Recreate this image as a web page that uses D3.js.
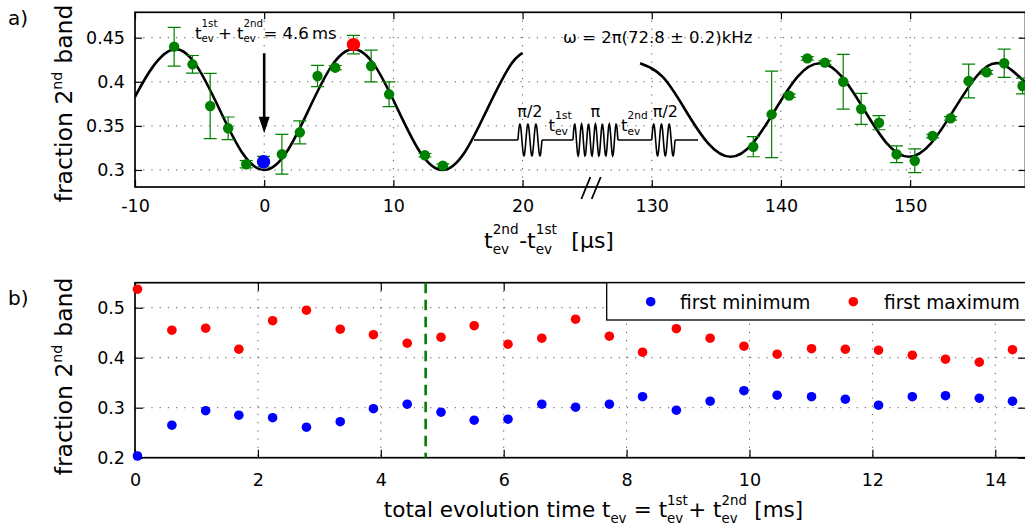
<!DOCTYPE html>
<html><head><meta charset="utf-8">
<script src="https://cdn.jsdelivr.net/npm/d3@7"></script>
<style>
html,body{margin:0;padding:0;background:#fff;}
svg{display:block;font-family:"DejaVu Sans",sans-serif;}
text{white-space:pre;}
</style></head><body>
<svg id="c" width="1025" height="532"></svg>
<script>
// ---------- Panel a data ----------
const aT   = [-6.97,-5.55,-4.18,-2.79,-1.39,-0.05,1.37,2.76,4.13,5.5,6.91,8.28,9.67,12.44,13.83,
              137.86,139.28,140.64,142.04,143.4,144.82,146.21,147.59,148.95,150.36,151.74,153.13,154.53,155.92,157.28,158.7];
const aV   = [0.4398,0.4198,0.3726,0.3473,0.3065,0.3094,0.3178,0.3427,0.4066,0.416,0.4422,0.4179,0.3858,0.3167,0.3049,
              0.3264,0.3631,0.3843,0.4266,0.4217,0.4001,0.3692,0.3536,0.3178,0.3105,0.3385,0.3586,0.4009,0.4108,0.421,0.3952];
const aErr = [0.022,0.010,0.037,0.0128,0.004,0.006,0.0225,0.013,0.012,0.0025,0.0105,0.018,0.014,0.002,0.002,
              0.0114,0.049,0.002,0.002,0.002,0.031,0.0176,0.008,0.0095,0.0134,0.002,0.002,0.0192,0.002,0.016,0.009];
const aMinT = [-0.05], aMinV = [0.3094];
const aMaxT = [6.91],  aMaxV = [0.4422];
// fit curve (two visible segments)
const fitT1 = [-10,-8.625,-6.9,-5.175,-3.45,-1.725,0,1.725,3.45,5.175,6.9,8.625,10.35,12.075,13.8,15.525,17.25,18.975,20];
const fitV1 = [0.383,0.4169,0.437,0.4169,0.3685,0.3201,0.300,0.3201,0.3685,0.4169,0.437,0.4169,0.3685,0.3201,0.300,0.3201,0.3685,0.4169,0.4327];
const fitT2 = [129.1,130.85,132.6,134.35,136.1,137.83,139.55,141.28,143.0,144.73,146.45,148.18,149.9,151.63,153.38,155.1,156.85,158.93];
const fitV2 = [0.421,0.4055,0.368,0.3305,0.315,0.3305,0.368,0.4055,0.421,0.4055,0.368,0.3305,0.315,0.3305,0.368,0.4055,0.421,0.399];
const aXTickU = [-10,0,10,20,30,40,50];
const aXTickLabels = ['-10','0','10','20','130','140','150'];
const aYTicks = [0.3,0.35,0.4,0.45];
const aYTickLabels = ['0.3','0.35','0.4','0.45'];
const BREAK_SHIFT = 100; // 130 µs is drawn where 30 would be

// ---------- Panel b data ----------
const bT   = [0.04,0.6,1.15,1.69,2.24,2.79,3.34,3.88,4.43,4.98,5.52,6.07,6.62,7.17,7.72,8.26,8.81,9.36,9.91,10.45,11.01,11.56,12.1,12.65,13.19,13.74,14.28];
const bMin = [0.2034,0.265,0.294,0.285,0.280,0.261,0.272,0.298,0.307,0.291,0.275,0.277,0.307,0.301,0.307,0.322,0.295,0.313,0.334,0.325,0.322,0.317,0.305,0.322,0.324,0.319,0.313];
const bMax = [0.537,0.455,0.459,0.417,0.474,0.495,0.457,0.446,0.429,0.441,0.464,0.427,0.439,0.477,0.443,0.411,0.458,0.439,0.423,0.407,0.418,0.417,0.415,0.405,0.397,0.391,0.416];
const bMarkT = 4.73;
const bXTicks = [0,2,4,6,8,10,12,14];
const bYTicks = [0.2,0.3,0.4,0.5];
const bYTickLabels = ['0.2','0.3','0.4','0.5'];
const legendLabels = ['first minimum','first maximum'];

const GREEN = '#008000', BLUE = '#0000ff', RED = '#ff0000';
const FONT = '"DejaVu Sans", sans-serif';
const TICK_FS = 17.5;

const svg = d3.select('#c');
svg.append('rect').attr('width',1025).attr('height',532).attr('fill','#fff');

// ---------- rich text helper (stacked super/subscripts) ----------
function rich(parent, parts, o) {
  const size = o.size, sc = o.scale || 0.62;
  const g = parent.append('g');
  const inner = g.append('g');
  let cx = 0;
  const mk = (txt, x, y, fs) => inner.append('text').attr('x',x).attr('y',y)
      .attr('font-size',fs).attr('font-family',FONT).attr('fill','#000').text(txt);
  parts.forEach(p => {
    if (typeof p === 'string') {
      const t = mk(p, cx, 0, size); cx += t.node().getComputedTextLength();
    } else {
      let w = 0;
      if (p.sup) { const t = mk(p.sup, cx, (o.supDy ?? -0.55)*size, size*sc); w = Math.max(w, t.node().getComputedTextLength()); }
      if (p.sub) { const t = mk(p.sub, cx, (o.subDy ?? 0.27)*size, size*sc); w = Math.max(w, t.node().getComputedTextLength()); }
      cx += w + (o.gap || 0.5);
    }
  });
  const anchor = o.anchor || 'start';
  const off = anchor === 'middle' ? -cx/2 : anchor === 'end' ? -cx : 0;
  inner.attr('transform', `translate(${off},0)`);
  g.attr('transform', `translate(${o.x},${o.y}) rotate(${o.rotate||0})`);
  return g;
}

function styleAxis(g, fs) {
  g.select('.domain').remove();
  g.selectAll('.tick line').attr('stroke','#000').attr('stroke-width',1.2);
  g.selectAll('.tick text').attr('font-size',fs).attr('fill','#000').attr('font-family',FONT);
}

// =================== PANEL A ===================
const A = {l:135, r:1025.5, t:12.3, b:187};
const xa = d3.scaleLinear().domain([-10, 58.93]).range([A.l, A.r]);
const ya = d3.scaleLinear().domain([0.2807, 0.4788]).range([A.b, A.t]);
const ua = t => (t > BREAK_SHIFT ? t - BREAK_SHIFT : t);
const pa = svg.append('g');

svg.append('clipPath').attr('id','clipA').append('rect')
  .attr('x',A.l).attr('y',A.t).attr('width',A.r-A.l).attr('height',A.b-A.t);

// grid
const gridA = pa.append('g').attr('stroke','#555').attr('stroke-width',1).attr('stroke-dasharray','1.2,7');
gridA.selectAll('.gx').data(aXTickU.filter(u => u > -10)).join('line')
  .attr('x1',d=>xa(d)).attr('x2',d=>xa(d)).attr('y1',A.t).attr('y2',A.b);
gridA.selectAll('.gy').data(aYTicks).join('line')
  .attr('x1',A.l).attr('x2',A.r).attr('y1',d=>ya(d)).attr('y2',d=>ya(d));

// axes
const axB = pa.append('g').attr('transform',`translate(0,${A.b})`)
  .call(d3.axisBottom(xa).tickValues(aXTickU).tickFormat((d,i)=>aXTickLabels[i]).tickSize(-7).tickSizeOuter(0).tickPadding(12.5));
styleAxis(axB, TICK_FS);
const axL = pa.append('g').attr('transform',`translate(${A.l},0)`)
  .call(d3.axisLeft(ya).tickValues(aYTicks).tickFormat((d,i)=>aYTickLabels[i]).tickSize(-7).tickSizeOuter(0).tickPadding(10));
styleAxis(axL, TICK_FS);
const axT = pa.append('g').attr('transform',`translate(0,${A.t})`)
  .call(d3.axisTop(xa).tickValues(aXTickU).tickFormat('').tickSize(-7).tickSizeOuter(0));
styleAxis(axT, TICK_FS);
const axR = pa.append('g').attr('transform',`translate(${A.r},0)`)
  .call(d3.axisRight(ya).tickValues(aYTicks).tickFormat('').tickSize(-7).tickSizeOuter(0));
styleAxis(axR, TICK_FS);
pa.append('rect').attr('x',A.l).attr('y',A.t).attr('width',A.r-A.l).attr('height',A.b-A.t)
  .attr('fill','none').attr('stroke','#000').attr('stroke-width',1.7);

// axis break mark "//"
const brk = pa.append('g').attr('stroke','#000').attr('stroke-width',1.8);
[24.9, 25.7].forEach(u => {
  brk.append('line').attr('x1',xa(u)-4.5).attr('y1',A.b+12).attr('x2',xa(u)+4.5).attr('y2',A.b-10);
});

// pulse sequence sketch
const pulseBase = 0.334, pulseAmp = 0.018;
const pulseLine = [16.24, 33.58];
const pulses = [{u0:19.64,u1:21.5,n:3,label:'π/2'},{u0:23.9,u1:27.38,n:6.5,label:'π'},{u0:30.0,u1:31.8,n:3,label:'π/2'}];
const pg = pa.append('g');
pg.append('line').attr('x1',xa(pulseLine[0])).attr('x2',xa(pulseLine[1]))
  .attr('y1',ya(pulseBase)).attr('y2',ya(pulseBase)).attr('stroke','#000').attr('stroke-width',1.6);
pulses.forEach(p => {
  const N = 120, pts = [];
  for (let i = 0; i <= N; i++) {
    const f = i / N;
    pts.push([xa(p.u0 + f*(p.u1-p.u0)), ya(pulseBase + pulseAmp*Math.sin(2*Math.PI*p.n*f))]);
  }
  pg.append('rect').attr('x',xa(p.u0)).attr('width',xa(p.u1)-xa(p.u0))
    .attr('y',ya(pulseBase+pulseAmp)-1).attr('height',ya(pulseBase-pulseAmp)-ya(pulseBase+pulseAmp)+2).attr('fill','#fff');
  pg.append('path').attr('d',d3.line()(pts)).attr('fill','none').attr('stroke','#000').attr('stroke-width',1.6);
  pg.append('text').attr('x',xa((p.u0+p.u1)/2)+(p.label==='π/2' && p.u0>29 ? 2 : 0)).attr('y',ya(0.3601)).attr('text-anchor','middle')
    .attr('font-size',16).attr('font-family',FONT).text(p.label);
});
rich(pg, ['t',{sup:'1st',sub:'ev'}], {x:xa(22.0), y:ya(0.3445), size:16.5, scale:0.66, supDy:-0.69, subDy:0.25});
rich(pg, ['t',{sup:'2nd',sub:'ev'}], {x:xa(27.62), y:ya(0.3445), size:16.5, scale:0.64, supDy:-0.69, subDy:0.25});

// fit curve
const lineA = d3.line().x(d=>xa(ua(d[0]))).y(d=>ya(d[1])).curve(d3.curveNatural);
const curveG = pa.append('g').attr('clip-path','url(#clipA)');
[[fitT1,fitV1],[fitT2,fitV2]].forEach(([T,V]) => {
  curveG.append('path').attr('d', lineA(T.map((t,i)=>[t,V[i]])))
    .attr('fill','none').attr('stroke','#000').attr('stroke-width',2.6);
});

// error bars
const ebG = pa.append('g').attr('stroke',GREEN).attr('stroke-width',1.2).attr('clip-path','url(#clipA)');
const capW = 6.5;
aT.forEach((t,i) => {
  const x = xa(ua(t)), y1 = ya(aV[i]+aErr[i]), y2 = ya(aV[i]-aErr[i]);
  ebG.append('line').attr('x1',x).attr('x2',x).attr('y1',y1).attr('y2',y2);
  ebG.append('line').attr('x1',x-capW).attr('x2',x+capW).attr('y1',y1).attr('y2',y1);
  ebG.append('line').attr('x1',x-capW).attr('x2',x+capW).attr('y1',y2).attr('y2',y2);
});
const dotsA = pa.append('g').attr('clip-path','url(#clipA)');
dotsA.selectAll('circle.g').data(aT).join('circle')
  .attr('cx',d=>xa(ua(d))).attr('cy',(d,i)=>ya(aV[i])).attr('r',5.2).attr('fill',GREEN);
dotsA.selectAll('circle.mn').data(aMinT).join('circle')
  .attr('cx',d=>xa(ua(d))).attr('cy',(d,i)=>ya(aMinV[i])).attr('r',6.7).attr('fill',BLUE);
dotsA.selectAll('circle.mx').data(aMaxT).join('circle')
  .attr('cx',d=>xa(ua(d))).attr('cy',(d,i)=>ya(aMaxV[i])).attr('r',6.7).attr('fill',RED);

// annotation arrow
const arr = pa.append('g');
arr.append('line').attr('x1',xa(0)).attr('x2',xa(0)).attr('y1',ya(0.4323)).attr('y2',ya(0.356))
  .attr('stroke','#000').attr('stroke-width',2.6);
arr.append('path').attr('d', d3.line()([[xa(0)-5.5,ya(0.3604)],[xa(0)+5.5,ya(0.3604)],[xa(0),ya(0.3416)]])+'Z').attr('fill','#000');
rich(pa, ['t',{sup:'1st',sub:'ev'},'+ t',{sup:'2nd',sub:'ev'},'= 4.6\u2009ms'],
  {x:xa(-5.35), y:ya(0.4482), size:16.5, scale:0.62, supDy:-0.74, subDy:0.16});
pa.append('text').attr('x',xa(23.13)).attr('y',ya(0.4437)).attr('font-size',16.5).attr('font-family',FONT)
  .text('ω = 2π(72.8 ± 0.2)kHz');

// labels
rich(svg, ['fraction 2',{sup:'nd'},' band'], {x:72, y:103.5, size:23.5, anchor:'middle', rotate:-90, scale:0.6, supDy:-0.42});
rich(svg, ['t',{sup:'2nd',sub:'ev'},'-t',{sup:'1st',sub:'ev'},'  [µs]'], {x:549, y:248, size:22, anchor:'middle', scale:0.62, supDy:-0.64, subDy:0.27});
svg.append('text').attr('x',8).attr('y',25).attr('font-size',20).attr('font-family',FONT).text('a)');

// =================== PANEL B ===================
const B = {l:135, r:1026, t:282.7, b:457.7};
const xb = d3.scaleLinear().domain([0,14.5]).range([B.l,B.r]);
const yb = d3.scaleLinear().domain([0.2,0.55]).range([B.b,B.t]);
const pb = svg.append('g');
svg.append('clipPath').attr('id','clipB').append('rect')
  .attr('x',B.l-8).attr('y',B.t-8).attr('width',B.r-B.l+16).attr('height',B.b-B.t+16);

const gridB = pb.append('g').attr('stroke','#555').attr('stroke-width',1).attr('stroke-dasharray','1.2,7');
gridB.selectAll('.gx').data(bXTicks.filter(d=>d>0)).join('line')
  .attr('x1',d=>xb(d)).attr('x2',d=>xb(d)).attr('y1',B.t).attr('y2',B.b);
gridB.selectAll('.gy').data(bYTicks.filter(d=>d>0.2)).join('line')
  .attr('x1',B.l).attr('x2',B.r).attr('y1',d=>yb(d)).attr('y2',d=>yb(d));

const bxB = pb.append('g').attr('transform',`translate(0,${B.b})`)
  .call(d3.axisBottom(xb).tickValues(bXTicks).tickSize(-8).tickSizeOuter(0).tickPadding(16));
styleAxis(bxB, TICK_FS);
const byL = pb.append('g').attr('transform',`translate(${B.l},0)`)
  .call(d3.axisLeft(yb).tickValues(bYTicks).tickFormat((d,i)=>bYTickLabels[i]).tickSize(-8).tickSizeOuter(0).tickPadding(10));
styleAxis(byL, TICK_FS);
const bxT = pb.append('g').attr('transform',`translate(0,${B.t})`)
  .call(d3.axisTop(xb).tickValues(bXTicks).tickFormat('').tickSize(-8).tickSizeOuter(0));
styleAxis(bxT, TICK_FS);
const byR = pb.append('g').attr('transform',`translate(${B.r},0)`)
  .call(d3.axisRight(yb).tickValues(bYTicks).tickFormat('').tickSize(-8).tickSizeOuter(0));
styleAxis(byR, TICK_FS);
pb.append('rect').attr('x',B.l).attr('y',B.t).attr('width',B.r-B.l).attr('height',B.b-B.t)
  .attr('fill','none').attr('stroke','#000').attr('stroke-width',1.7);

// dashed marker
pb.append('line').attr('x1',xb(bMarkT)).attr('x2',xb(bMarkT)).attr('y1',B.t).attr('y2',B.b)
  .attr('stroke',GREEN).attr('stroke-width',2.6).attr('stroke-dasharray','10.5,6.5');

// legend
const lg = pb.append('g');
lg.append('rect').attr('x',606.7).attr('y',B.t).attr('width',B.r-606.7+4).attr('height',37.3)
  .attr('fill','#fff').attr('stroke','#000').attr('stroke-width',1.3);
[[BLUE,650.7,680],[RED,853.3,884]].forEach((c,i) => {
  lg.append('circle').attr('cx',c[1]).attr('cy',301.7).attr('r',4.8).attr('fill',c[0]);
  lg.append('text').attr('x',c[2]).attr('y',308.5).attr('font-size',18.6).attr('font-family',FONT).text(legendLabels[i]);
});

const dotsB = pb.append('g').attr('clip-path','url(#clipB)');
dotsB.selectAll('circle.mx').data(bT).join('circle')
  .attr('cx',d=>xb(d)).attr('cy',(d,i)=>yb(bMax[i])).attr('r',4.8).attr('fill',RED);
dotsB.selectAll('circle.mn').data(bT).join('circle')
  .attr('cx',d=>xb(d)).attr('cy',(d,i)=>yb(bMin[i])).attr('r',4.8).attr('fill',BLUE);

rich(svg, ['fraction 2',{sup:'nd'},' band'], {x:72, y:376.5, size:23.5, anchor:'middle', rotate:-90, scale:0.6, supDy:-0.42});
rich(svg, ['total evolution time t',{sub:'ev'},' = t',{sup:'1st',sub:'ev'},'+ t',{sup:'2nd',sub:'ev'},' [ms]'],
  {x:593.5, y:517, size:21.5, anchor:'middle', scale:0.62, supDy:-0.55, subDy:0.3});
svg.append('text').attr('x',8).attr('y',305).attr('font-size',20).attr('font-family',FONT).text('b)');
</script></body></html>
